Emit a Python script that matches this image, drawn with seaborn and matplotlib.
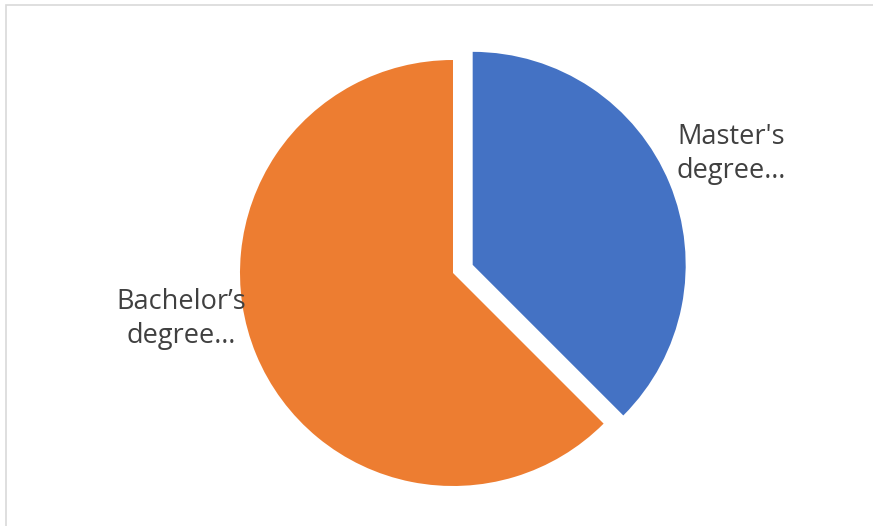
import matplotlib
matplotlib.use("Agg")
import matplotlib.pyplot as plt
from matplotlib.patches import Rectangle
import seaborn as sns

# Degree breakdown
categories = ["Master's degree", "Bachelor\u2019s degree"]
counts = [3, 5]
short_labels = ["Master's\ndegree\u2026", "Bachelor\u2019s\ndegree\u2026"]
colors = ["#4472C4", "#ED7D31"]
explode = [0.1, 0.0]

sns.set_theme(style="white")
plt.rcParams["font.family"] = ["Open Sans", "DejaVu Sans"]

W, H, DPI = 873, 526, 100
fig = plt.figure(figsize=(W / DPI, H / DPI), dpi=DPI)
fig.patch.set_facecolor("white")

# axes spans the whole figure; one data unit = pie radius in pixels
R_PX = 213.0
CX, CY = 453.0, 273.0
ax = fig.add_axes([0, 0, 1, 1])

wedges, texts = ax.pie(
    counts,
    labels=short_labels,
    colors=colors,
    explode=explode,
    startangle=90,
    counterclock=False,
    radius=1.0,
    labeldistance=1.3,
    wedgeprops=dict(linewidth=0),
    textprops=dict(color="#404040", fontsize=19.5, ha="center", va="center",
                   linespacing=1.3),
    frame=True,
)
ax.set_xlim(-CX / R_PX, (W - CX) / R_PX)
ax.set_ylim(-(H - CY) / R_PX, CY / R_PX)
ax.set_aspect("auto")
ax.set_axis_off()

# label placement beside each slice
texts[0].set_position((1.305, 0.56))
texts[1].set_position((-1.277, -0.215))
for t in texts:
    t.set_horizontalalignment("center")

# chart area outline
fig.patches.append(Rectangle((5.5 / W, -0.1), 1.2, 1.1 - 4.5 / H,
                             transform=fig.transFigure, fill=False,
                             edgecolor="#D9D9D9", linewidth=1.2))

fig.savefig("out.png", dpi=DPI, facecolor="white")
